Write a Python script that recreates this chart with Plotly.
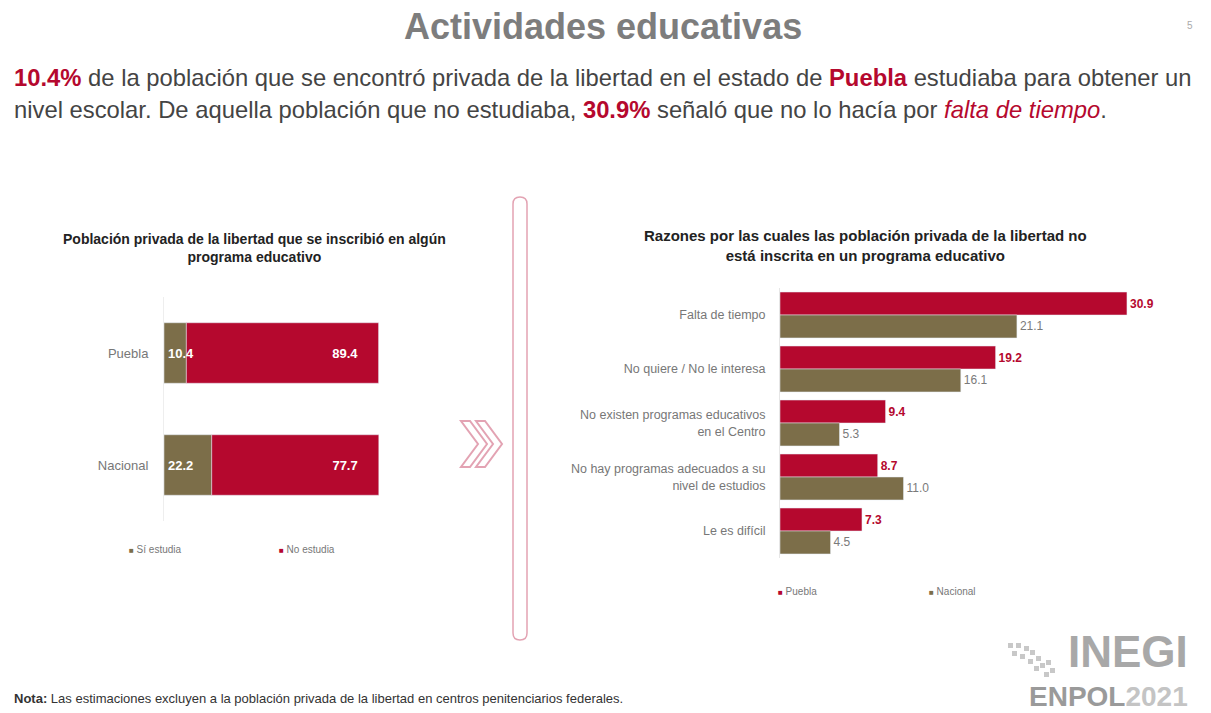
import plotly.graph_objects as go

W, H = 1211, 713

# ---------------- data ----------------
left_categories = ["Puebla", "Nacional"]
si_estudia = [10.4, 22.2]
no_estudia = [89.4, 77.7]

reasons = [
    "Falta de tiempo",
    "No quiere / No le interesa",
    "No existen programas educativos<br>en el Centro",
    "No hay programas adecuados a su<br>nivel de estudios",
    "Le es difícil",
]
puebla_vals = [30.9, 19.2, 9.4, 8.7, 7.3]
nacional_vals = [21.1, 16.1, 5.3, 11.0, 4.5]

RED = "#B5082E"
OLIVE = "#7C6E49"
PINK = "#E3A3B3"
FONT = "Liberation Sans, Arial, sans-serif"
NBSP = "\u00a0"


def px(x):
    return x / W


def py(y):
    return 1 - y / H


fig = go.Figure()

# ---------------- left chart (stacked via shared offsetgroup + base) ----------------
fig.add_trace(go.Bar(
    y=left_categories, x=si_estudia, orientation="h", name="Sí estudia",
    marker=dict(color=OLIVE), offsetgroup="L", width=0.54,
    xaxis="x", yaxis="y", showlegend=False,
))
fig.add_trace(go.Bar(
    y=left_categories, x=no_estudia, base=si_estudia, orientation="h", name="No estudia",
    marker=dict(color=RED), offsetgroup="L", width=0.54,
    text=[f"{v:.1f}" + NBSP * 5 for v in no_estudia], textposition="inside", textangle=0,
    insidetextanchor="end", constraintext="none",
    textfont=dict(color="white", size=13, family=FONT, weight="bold"),
    xaxis="x", yaxis="y", showlegend=False,
))

# ---------------- right chart (grouped) ----------------
fig.add_trace(go.Bar(
    y=reasons, x=puebla_vals, orientation="h", name="Puebla",
    marker=dict(color=RED), offsetgroup="P",
    text=[f"{v:.1f}" for v in puebla_vals], textposition="outside", textangle=0,
    textfont=dict(color=RED, size=12, family=FONT, weight="bold"),
    xaxis="x2", yaxis="y2", showlegend=False, cliponaxis=False,
))
fig.add_trace(go.Bar(
    y=reasons, x=nacional_vals, orientation="h", name="Nacional",
    marker=dict(color=OLIVE), offsetgroup="N",
    text=[f"{v:.1f}" for v in nacional_vals], textposition="outside", textangle=0,
    textfont=dict(color="#7A7A7A", size=12, family=FONT),
    xaxis="x2", yaxis="y2", showlegend=False, cliponaxis=False,
))

# ---------------- shapes ----------------
shapes = []
# rounded vertical divider
x0, x1, y0, y1, r = 513, 527, 197, 640, 7
path = (f"M {px(x0+r)} {py(y0)} L {px(x1-r)} {py(y0)} Q {px(x1)} {py(y0)} {px(x1)} {py(y0+r)} "
        f"L {px(x1)} {py(y1-r)} Q {px(x1)} {py(y1)} {px(x1-r)} {py(y1)} "
        f"L {px(x0+r)} {py(y1)} Q {px(x0)} {py(y1)} {px(x0)} {py(y1-r)} "
        f"L {px(x0)} {py(y0+r)} Q {px(x0)} {py(y0)} {px(x0+r)} {py(y0)} Z")
shapes.append(dict(type="path", xref="paper", yref="paper", path=path,
                   line=dict(color=PINK, width=1.5)))
# chevrons
for cx in (461, 476):
    w, d, ya, yb = 9, 17, 421, 467
    ym = (ya + yb) / 2
    pts = [(cx, ya), (cx + w, ya), (cx + w + d, ym), (cx + w, yb), (cx, yb), (cx + d, ym)]
    p = "M " + " L ".join(f"{px(a)} {py(b)}" for a, b in pts) + " Z"
    shapes.append(dict(type="path", xref="paper", yref="paper", path=p,
                       line=dict(color=PINK, width=2)))
# small logo squares
for sx, sy in [(1008, 643), (1016, 643), (1024, 646), (1012, 651), (1020, 654),
               (1030, 650), (1028, 659), (1036, 656), (1040, 663), (1046, 660),
               (1034, 666), (1050, 668), (1044, 672)]:
    shapes.append(dict(type="rect", xref="paper", yref="paper",
                       x0=px(sx), x1=px(sx + 5), y0=py(sy + 5), y1=py(sy),
                       line=dict(width=0), fillcolor="#C8C8C8"))

# ---------------- annotations ----------------
ann = []

# labels for the "Sí estudia" segment, anchored at the start of each bar
for cat, v in zip(left_categories, si_estudia):
    ann.append(dict(text=f"<b>{v:.1f}</b>", x=0, y=cat, xref="x", yref="y", showarrow=False,
                    xanchor="left", yanchor="middle", xshift=2,
                    font=dict(size=13, color="white", family=FONT)))


def note(text, x, y, size, color="#444444", xanchor="left", align="left"):
    ann.append(dict(text=text, x=px(x), y=py(y), xref="paper", yref="paper", showarrow=False,
                    xanchor=xanchor, yanchor="middle", align=align,
                    font=dict(size=size, color=color, family=FONT)))


note("<b>Actividades educativas</b>", 603, 27, 36, "#7D7D7D", xanchor="center", align="center")
line1 = (f"<b><span style='color:{RED}'>10.4%</span></b> de la población que se encontró privada de la "
         f"libertad en el estado de <b><span style='color:{RED}'>Puebla</span></b> estudiaba para obtener un")
line2 = (f"nivel escolar. De aquella población que no estudiaba, <b><span style='color:{RED}'>30.9%</span></b> "
         f"señaló que no lo hacía por <i><span style='color:{RED}'>falta de tiempo</span></i>.")
note(line1, 12, 77, 23.8)
note(line2, 12, 109, 23.8)
note("<b>Población privada de la libertad que se inscribió en algún<br>programa educativo</b>",
     254, 248, 14, "#222222", xanchor="center", align="center")
note("<b>Razones por las cuales las población privada de la libertad no<br>está inscrita en un programa educativo</b>",
     865, 246, 15, "#222222", xanchor="center", align="center")
note("<b>Nota:</b> Las estimaciones excluyen a la población privada de la libertad en centros penitenciarios federales.",
     12, 698, 13, "#333333")
# custom legends
note(f"<span style='color:{OLIVE};font-size:8px'>■</span> Sí estudia", 127, 549, 10, "#777777")
note(f"<span style='color:{RED};font-size:8px'>■</span> No estudia", 277, 549, 10, "#777777")
note(f"<span style='color:{RED};font-size:8px'>■</span> Puebla", 776, 591, 10, "#777777")
note(f"<span style='color:{OLIVE};font-size:8px'>■</span> Nacional", 927, 591, 10, "#777777")
# logo
note("<b>INEGI</b>", 1190, 651, 44, "#A8A8A8", xanchor="right", align="right")
note("<b><span style='color:#9A9A9A'>ENPOL</span><span style='color:#C4C4C4'>2021</span></b>",
     1190, 696, 28, "#A8A8A8", xanchor="right", align="right")
note("5", 1190, 25, 10, "#AAAAAA", xanchor="center", align="center")

fig.update_layout(
    width=W, height=H,
    margin=dict(l=0, r=0, t=0, b=0),
    paper_bgcolor="white", plot_bgcolor="white",
    barmode="group", bargap=0.15, bargroupgap=0,
    font=dict(family=FONT, color="#666666"),
    showlegend=False,
    xaxis=dict(domain=[px(164), px(379)], range=[0, 100], visible=False, anchor="y"),
    yaxis=dict(domain=[py(521), py(297)], autorange="reversed", anchor="x",
               showline=True, linecolor="#EEEEEE", linewidth=1, ticks="",
               tickfont=dict(size=13, color="#777777"), ticklabelstandoff=12),
    xaxis2=dict(domain=[px(780), px(1173)], range=[0, 35], visible=False, anchor="y2"),
    yaxis2=dict(domain=[py(558), py(288)], autorange="reversed", anchor="x2",
                showline=True, linecolor="#E6E6E6", linewidth=1, ticks="",
                tickfont=dict(size=12.5, color="#777777"), ticklabelstandoff=11),
    shapes=shapes, annotations=ann,
)

fig.write_html("out.html", config={"displayModeBar": False},
               post_script="document.body.style.margin='0';document.body.style.overflow='hidden';")
